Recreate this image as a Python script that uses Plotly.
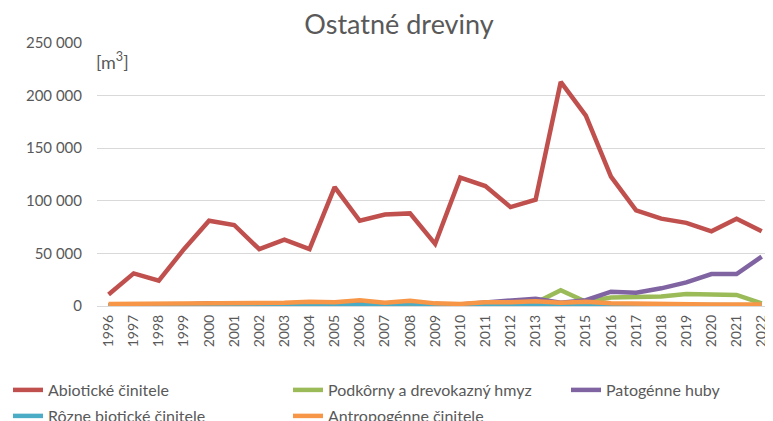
import plotly.graph_objects as go

years = [str(y) for y in range(1996, 2023)]
abioticke = [11000, 31000, 24000, 54000, 81000, 77000, 54000, 63000, 54000, 113000, 81000, 87000, 88000, 59000,
             122000, 114000, 94000, 101000, 213000, 181000, 123000, 91000, 83000, 79000, 71000, 83000, 71000]
podkorny = [500, 500, 800, 800, 1000, 1000, 800, 1000, 1000, 1000, 1500, 1000, 1500, 1000,
            1000, 1500, 2000, 3000, 15000, 4000, 8000, 8000, 9000, 11400, 11400, 10500, 2500]
patogenne = [800, 800, 1000, 1500, 2500, 2000, 1500, 2000, 2500, 2000, 3500, 2000, 3000, 1500,
             1500, 3500, 5000, 7000, 3000, 5500, 13600, 12700, 16800, 22500, 30400, 30400, 46900]
rozne = [300, 300, 500, 800, 500, 800, 800, 1000, 1500, 1500, 2000, 1000, 2500, 800,
         800, 1500, 1500, 2000, 1000, 2000, 1500, 1000, 500, 1000, 1000, 800, 800]
antropogenne = [2000, 2000, 2500, 3000, 2000, 3000, 2500, 3000, 4000, 3500, 5500, 3000, 5000, 2500,
                2000, 3500, 3500, 4500, 3000, 4000, 2500, 2000, 1500, 1500, 1500, 1500, 1500]

names = ["Abiotické činitele", "Podkôrny a drevokazný hmyz", "Patogénne huby",
         "Rôzne biotické činitele", "Antropogénne činitele"]
colors = ["#C0504D", "#9BBB59", "#8064A2", "#4BACC6", "#F79646"]
series = [abioticke, podkorny, patogenne, rozne, antropogenne]
legends = ["legend", "legend2", "legend3", "legend4", "legend5"]

FONT = "Lato"
W, H = 773, 421
OFF = 8  # page body offset

fig = go.Figure()
for n, c, s, lg in zip(names, colors, series, legends):
    fig.add_trace(go.Scatter(x=years, y=s, name=n, mode="lines",
                             line=dict(color=c, width=4.5), legend=lg))

leg_common = dict(orientation="h", xref="container", yref="container", xanchor="left", yanchor="middle",
                  itemwidth=30, font=dict(family=FONT, size=16, color="#595959"),
                  bgcolor="rgba(0,0,0,0)")
# legend item anchor positions in layout pixels (x left, row centre y)
leg_pos = [(0, 382), (280, 382), (558, 382), (0, 408), (280, 408)]
leg_layout = {}
for lg, (px, py) in zip(legends, leg_pos):
    leg_layout[lg] = dict(x=px / W, y=1 - py / H, **leg_common)

fig.update_layout(
    width=W, height=H,
    margin=dict(l=97 - OFF, r=OFF, t=43 - OFF, b=H - (306 - OFF), autoexpand=False),
    paper_bgcolor="white", plot_bgcolor="white",
    separators=", ",
    font=dict(family=FONT, color="#595959", size=15),
    title=dict(text="Ostatné dreviny", x=(399 - OFF) / W, xanchor="center", y=1 - (25 - OFF) / H,
               yanchor="middle", xref="container", yref="container",
               font=dict(family=FONT, size=27, color="#595959")),
    xaxis=dict(type="category", range=[-0.46, 26.45], tickangle=-90, showgrid=False,
               showline=False, ticks="", ticklabelstandoff=5, ticklabeloverflow="allow",
               tickfont=dict(size=14, color="#595959")),
    yaxis=dict(range=[0, 250000], tickvals=[0, 50000, 100000, 150000, 200000, 250000],
               tickformat=",d", showgrid=True, gridcolor="#D9D9D9", gridwidth=1.3,
               zeroline=True, zerolinecolor="#D9D9D9", zerolinewidth=1.3,
               ticklabelstandoff=14, tickfont=dict(size=15, color="#595959")),
    showlegend=True,
    **leg_layout,
)
fig.add_annotation(text="[m<sup>3</sup>]", xref="paper", yref="paper", x=0.0, y=0.932, xshift=-3,
                   xanchor="left", yanchor="middle", showarrow=False,
                   font=dict(family=FONT, size=18, color="#595959"))
fig.write_html("out.html")
